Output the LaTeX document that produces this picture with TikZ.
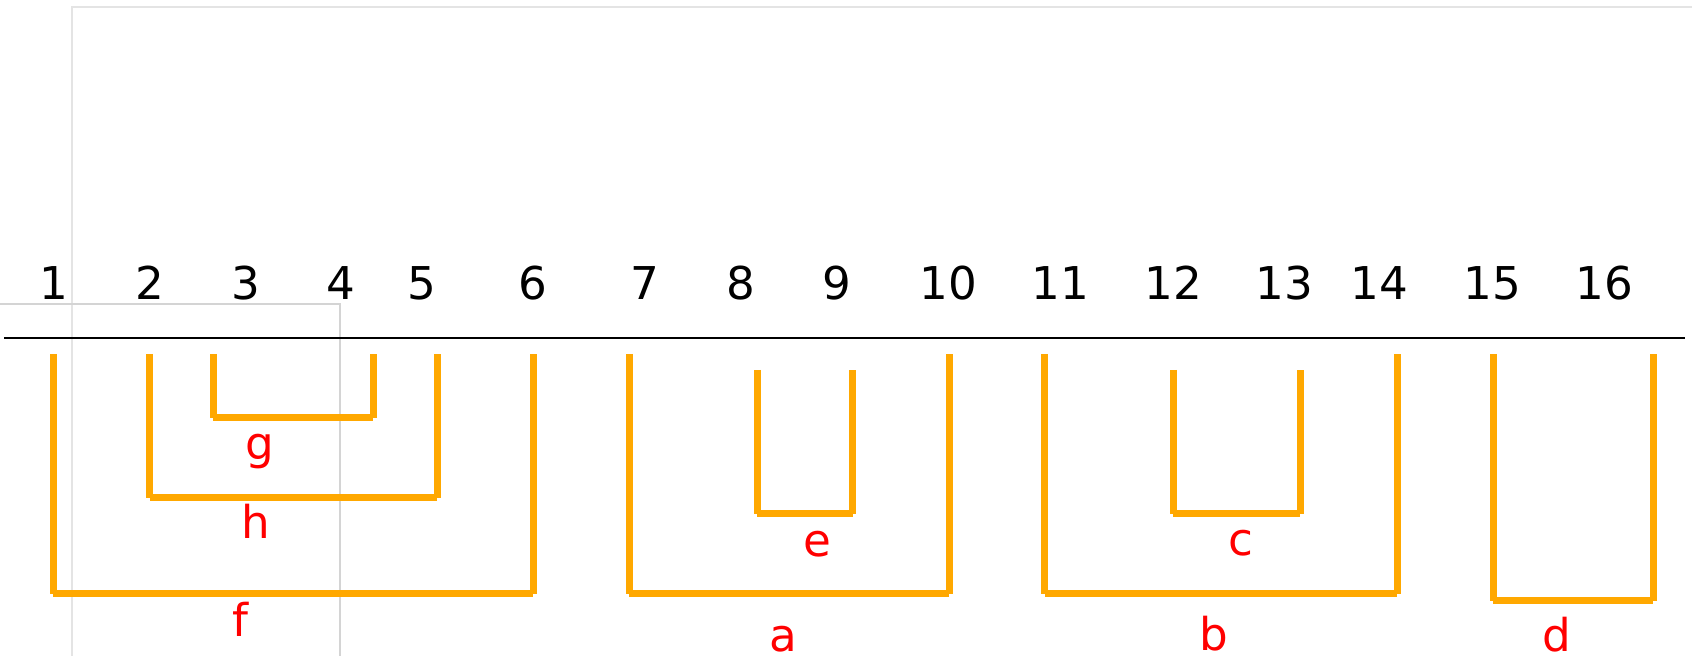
\documentclass[tikz,border=0pt]{standalone}
\usepackage{fontspec}
\setmainfont{DejaVu Sans}
\definecolor{bracketorange}{HTML}{FFA800}
\definecolor{framegrayA}{HTML}{E4E4E4}
\definecolor{framegrayB}{HTML}{D4D4D4}
\definecolor{labelred}{HTML}{FF0000}
\tikzset{
  bracketline/.style={draw=bracketorange, line width=3.5pt, line cap=butt},
  axisline/.style={draw=black, line width=1pt},
  framelineA/.style={draw=framegrayA, line width=1.3pt},
  framelineB/.style={draw=framegrayB, line width=1.3pt},
  numlabel/.style={anchor=base, inner sep=0pt, font=\fontsize{22.6pt}{26pt}\selectfont, text=black},
  letterlabel/.style={anchor=base, inner sep=0pt, font=\fontsize{22.6pt}{26pt}\selectfont, text=labelred}
}
\newcommand\ubracket[5]{% name, xleft, xright, ytop, ybar
  \coordinate (#1tl) at (#2,#4);
  \coordinate (#1bl) at (#2,#5);
  \coordinate (#1br) at (#3,#5);
  \coordinate (#1tr) at (#3,#4);
  \draw[bracketline] (#1tl) -- (#1bl);
  \draw[bracketline] (#1bl) -- (#1br);
  \draw[bracketline] (#1br) -- (#1tr);
}
\begin{document}
\begin{tikzpicture}[x=0.5pt, y=-0.5pt]
  \useasboundingbox (0,0) rectangle (1692,656);
  % gray frames
  \draw[framelineA] (72,700) -- (72,7) -- (1750,7);
  \draw[framelineB] (-20,304) -- (340,304) -- (340,700);
  % axis line
  \coordinate (axL) at (4,338);
  \coordinate (axR) at (1685,338);
  \draw[axisline] (axL) -- (axR);
  % numbers
  \node[numlabel] (n1) at (54,300) {1};
  \node[numlabel] (n2) at (150,300) {2};
  \node[numlabel] (n3) at (246,300) {3};
  \node[numlabel] (n4) at (341,300) {4};
  \node[numlabel] (n5) at (422,300) {5};
  \node[numlabel] (n6) at (533,300) {6};
  \node[numlabel] (n7) at (645,300) {7};
  \node[numlabel] (n8) at (741,300) {8};
  \node[numlabel] (n9) at (837,300) {9};
  \node[numlabel] (n10) at (948,300) {10};
  \node[numlabel] (n11) at (1060,300) {11};
  \node[numlabel] (n12) at (1173,300) {12};
  \node[numlabel] (n13) at (1284,300) {13};
  \node[numlabel] (n14) at (1379,300) {14};
  \node[numlabel] (n15) at (1492,300) {15};
  \node[numlabel] (n16) at (1604,300) {16};
  % brackets
  \ubracket{f}{53}{533}{354}{594}
  \ubracket{h}{149.5}{437}{354}{498}
  \ubracket{g}{213}{373}{354}{418}
  \ubracket{a}{629}{949}{354}{594}
  \ubracket{e}{757}{852.5}{370}{514}
  \ubracket{b}{1044.5}{1397}{354}{594}
  \ubracket{c}{1173}{1300}{370}{514}
  \ubracket{d}{1493}{1653}{354}{601}
  % letter labels
  \node[letterlabel] (lg) at (260,460) {g};
  \node[letterlabel] (lh) at (256,539) {h};
  \node[letterlabel] (lf) at (240,637) {f};
  \node[letterlabel] (le) at (817,557) {e};
  \node[letterlabel] (la) at (783,652) {a};
  \node[letterlabel] (lc) at (1241,556) {c};
  \node[letterlabel] (lb) at (1214,651) {b};
  \node[letterlabel] (ld) at (1557,652) {d};
\end{tikzpicture}
\end{document}
